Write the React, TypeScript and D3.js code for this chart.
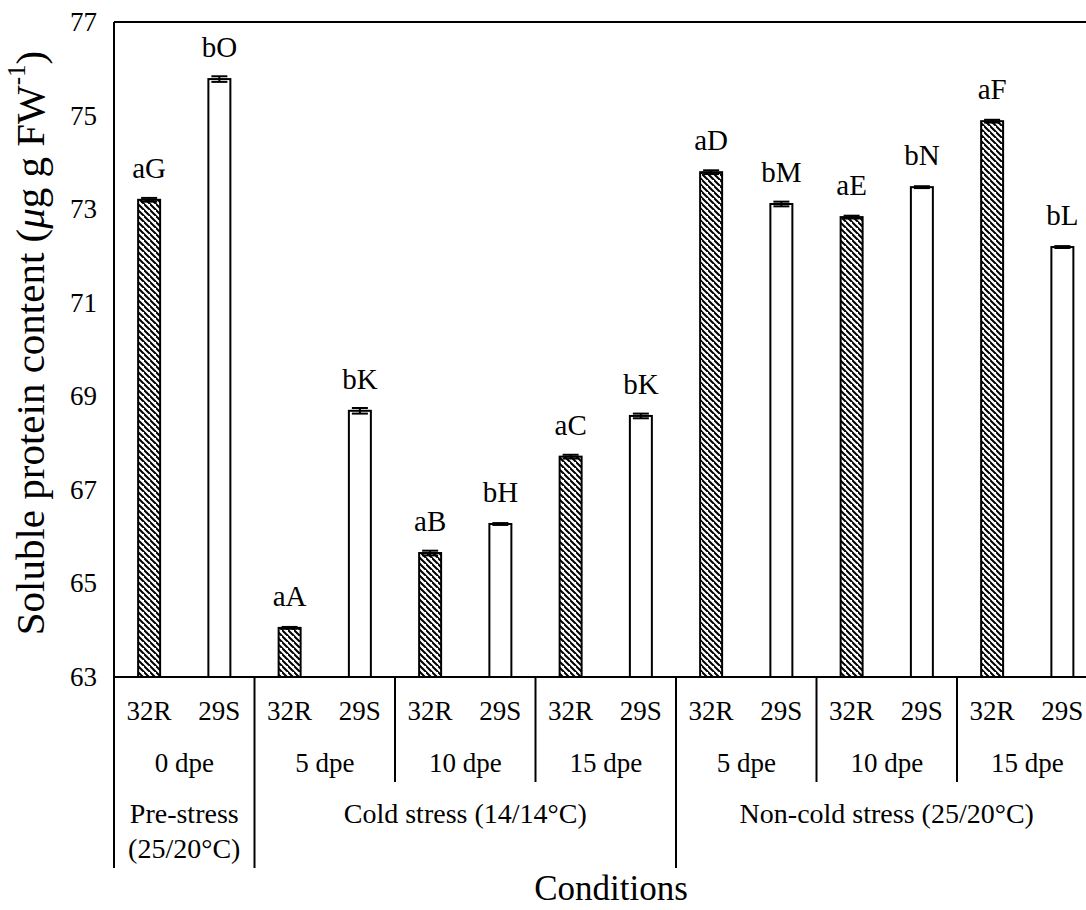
import React from "react";
import * as d3 from "d3";

const cultivars = ["32R", "29S", "32R", "29S", "32R", "29S", "32R", "29S", "32R", "29S", "32R", "29S", "32R", "29S"];
const values = [73.2, 75.78, 64.05, 68.69, 65.65, 66.27, 67.71, 68.58, 73.79, 73.11, 72.83, 73.47, 74.88, 72.19];
const errors = [0.04, 0.06, 0.02, 0.06, 0.05, 0.02, 0.04, 0.05, 0.04, 0.05, 0.03, 0.02, 0.03, 0.02];
const letters = ["aG", "bO", "aA", "bK", "aB", "bH", "aC", "bK", "aD", "bM", "aE", "bN", "aF", "bL"];
const dpeLabels = ["0 dpe", "5 dpe", "10 dpe", "15 dpe", "5 dpe", "10 dpe", "15 dpe"];
const phaseLabels = [["Pre-stress", "(25/20°C)"], ["Cold stress (14/14°C)"], ["Non-cold stress (25/20°C)"]];
const phaseSpans = [1, 3, 3]; // number of dpe groups per phase
const yTicks = [63, 65, 67, 69, 71, 73, 75, 77];

const W = 1086;
const H = 910;
const left = 114;
const top = 22;
const bottom = 677;
const step = 70.25;
const right = left + step * values.length;
const FONT = "'Liberation Serif', 'Times New Roman', serif";

export default function App() {
  const idx = values.map((_, i) => i);
  const x = d3.scaleBand<number>().domain(idx).range([left, right]).paddingInner(0.687).paddingOuter(0.3435);
  const y = d3.scaleLinear().domain([63, 77]).range([bottom, top]);
  const groupX = d3.scaleLinear().domain([0, dpeLabels.length]).range([left, right]);

  const phaseStarts: number[] = [];
  let acc = 0;
  phaseSpans.forEach((s) => {
    phaseStarts.push(acc);
    acc += s;
  });

  const row1Y = 720;
  const row2Y = 772;
  const level2End = 782;
  const level3End = 868;

  return (
    <svg
      width={W}
      height={H}
      style={{ position: "absolute", left: 0, top: 0, background: "#fff" }}
      fontFamily={FONT}
    >
      <defs>
        <pattern id="hatch" patternUnits="userSpaceOnUse" width="6" height="6">
          <rect width="6" height="6" fill="#fff" />
          <path d="M-1,-1 L7,7 M-4,2 L2,8 M4,-4 L10,2" stroke="#000" strokeWidth="2" />
        </pattern>
      </defs>

      {/* y tick labels */}
      {yTicks.map((t) => (
        <text key={t} x={97} y={y(t)} textAnchor="end" dominantBaseline="central" fontSize={27}>
          {t}
        </text>
      ))}

      {/* y axis title */}
      <text
        transform={`translate(30, 343) rotate(-90)`}
        textAnchor="middle"
        dominantBaseline="central"
        fontSize={41}
      >
        Soluble protein content (<tspan fontStyle="italic">μ</tspan>g g FW
        <tspan baselineShift="super" fontSize={25}>-1</tspan>)
      </text>

      {/* bars */}
      {values.map((v, i) => {
        const bx = x(i)!;
        const bw = x.bandwidth();
        const hatched = i % 2 === 0;
        return (
          <rect
            key={i}
            x={bx}
            y={y(v)}
            width={bw}
            height={bottom - y(v)}
            fill={hatched ? "url(#hatch)" : "#fff"}
            stroke="#000"
            strokeWidth={2}
          />
        );
      })}

      {/* error bars */}
      {values.map((v, i) => {
        const cx = x(i)! + x.bandwidth() / 2;
        const e = errors[i];
        const hw = 8;
        return (
          <g key={"e" + i} stroke="#000" strokeWidth={2}>
            <line x1={cx} x2={cx} y1={y(v - e)} y2={y(v + e)} />
            <line x1={cx - hw} x2={cx + hw} y1={y(v + e)} y2={y(v + e)} />
            <line x1={cx - hw} x2={cx + hw} y1={y(v - e)} y2={y(v - e)} />
          </g>
        );
      })}

      {/* letters */}
      {values.map((v, i) => (
        <text key={"l" + i} x={x(i)! + x.bandwidth() / 2} y={y(v) - 22} textAnchor="middle" fontSize={29}>
          {letters[i]}
        </text>
      ))}

      {/* plot frame: top + left + bottom axis */}
      <line x1={left} x2={W + 20} y1={top} y2={top} stroke="#000" strokeWidth={2} />
      <line x1={left} x2={left} y1={top} y2={bottom} stroke="#000" strokeWidth={2} />
      <line x1={left} x2={W + 20} y1={bottom} y2={bottom} stroke="#000" strokeWidth={2} />

      {/* category rows */}
      {cultivars.map((c, i) => (
        <text key={"c" + i} x={x(i)! + x.bandwidth() / 2} y={row1Y} textAnchor="middle" fontSize={27}>
          {c}
        </text>
      ))}
      {dpeLabels.map((d, g) => (
        <text key={"d" + g} x={(groupX(g) + groupX(g + 1)) / 2} y={row2Y} textAnchor="middle" fontSize={27}>
          {d}
        </text>
      ))}
      {dpeLabels.map((_, g) => {
        const isPhase = phaseStarts.includes(g);
        return (
          <line
            key={"s" + g}
            x1={groupX(g)}
            x2={groupX(g)}
            y1={bottom}
            y2={isPhase ? level3End : level2End}
            stroke="#000"
            strokeWidth={2}
          />
        );
      })}
      {phaseLabels.map((lines, p) => {
        const g0 = phaseStarts[p];
        const g1 = g0 + phaseSpans[p];
        const cx = (groupX(g0) + groupX(g1)) / 2;
        return lines.map((t, k) => (
          <text key={"p" + p + k} x={cx} y={823 + k * 35} textAnchor="middle" fontSize={28}>
            {t}
          </text>
        ));
      })}

      {/* x axis title */}
      <text x={611} y={900} textAnchor="middle" fontSize={35}>
        Conditions
      </text>
    </svg>
  );
}
